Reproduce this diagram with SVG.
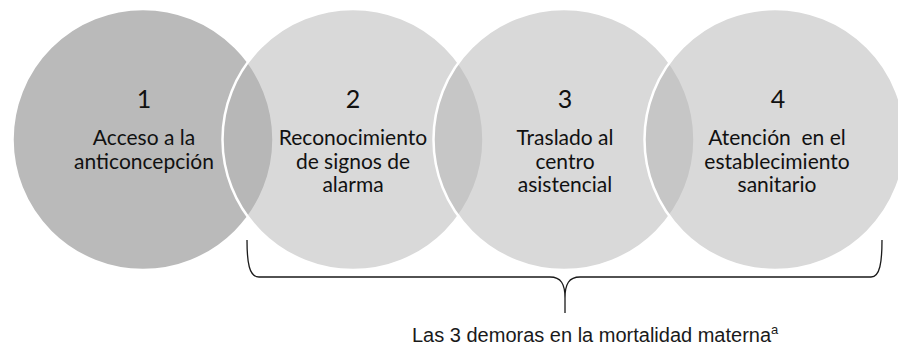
<svg xmlns="http://www.w3.org/2000/svg" width="898" height="346" viewBox="0 0 898 346">
  <style>
    .c1 { fill: #bababa; stroke: #ffffff; stroke-width: 2.5; }
    .cn { fill: rgba(179,179,179,0.5); stroke: #ffffff; stroke-width: 2.5; }
    .num { font-family: Lato, "Open Sans", sans-serif; font-size: 25px; fill: #111; text-anchor: middle; }
    .lbl { font-family: Lato, "Open Sans", sans-serif; font-size: 21px; fill: #111; text-anchor: middle; }
    .brace { fill: none; stroke: #1a1a1a; stroke-width: 1.3; }
    .cap { font-family: "Liberation Sans", Arial, sans-serif; font-size: 20px; fill: #1a1a1a; }
  </style>
  <rect width="898" height="346" fill="#ffffff"/>
  <g id="node1">
    <circle class="c1" cx="143" cy="139.5" r="130.5"/>
    <text class="num" x="144" y="108">1</text>
    <text class="lbl" x="144" y="145">Acceso a la</text>
    <text class="lbl" x="144" y="169">anticoncepción</text>
  </g>
  <g id="node2">
    <circle class="cn" cx="353" cy="139.5" r="130.5"/>
    <text class="num" x="353" y="108">2</text>
    <text class="lbl" x="353" y="145">Reconocimiento</text>
    <text class="lbl" x="353" y="168.5">de signos de</text>
    <text class="lbl" x="353" y="192">alarma</text>
  </g>
  <g id="node3">
    <circle class="cn" cx="564" cy="139.5" r="130.5"/>
    <text class="num" x="565" y="108">3</text>
    <text class="lbl" x="565" y="145">Traslado al</text>
    <text class="lbl" x="565" y="168.5">centro</text>
    <text class="lbl" x="565" y="192">asistencial</text>
  </g>
  <g id="node4">
    <circle class="cn" cx="775" cy="139.5" r="130.5"/>
    <text class="num" x="778" y="108">4</text>
    <text class="lbl" x="777" y="145" xml:space="preserve">Atención  en el</text>
    <text class="lbl" x="777" y="168.5">establecimiento</text>
    <text class="lbl" x="777" y="192">sanitario</text>
  </g>
  <g id="connectors">
    <path class="brace" d="M247,240 C247,262 249,277 259,277 L550,277 C561,277 565,284 565,298 L565,313 M565,298 C565,284 569,277 580,277 L871,277 C880,277 882,262 882,240"/>
    <text class="cap" x="412" y="342">Las 3 demoras en la mortalidad materna<tspan font-size="13" dy="-8">a</tspan></text>
  </g>
</svg>
